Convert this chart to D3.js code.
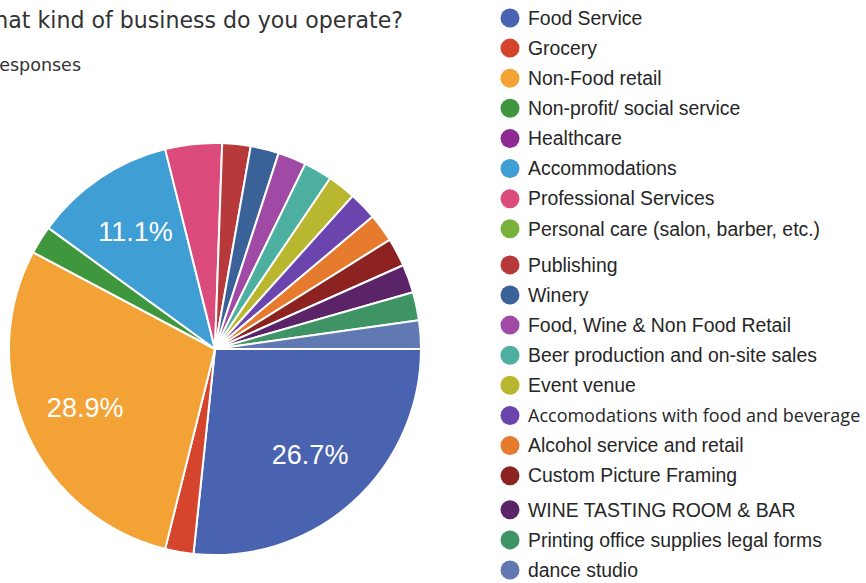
<!DOCTYPE html>
<html>
<head>
<meta charset="utf-8">
<script src="https://cdn.jsdelivr.net/npm/d3@7"></script>
<style>
  html, body { margin: 0; padding: 0; background: #fff; }
  svg { display: block; }
</style>
</head>
<body>
<svg id="chart" width="866" height="583"></svg>
<script>
// Survey question and response count
const titleText = "What kind of business do you operate?";
const subtitleText = "45 responses";

// Answer categories, in legend order
const categories = [
  "Food Service",
  "Grocery",
  "Non-Food retail",
  "Non-profit/ social service",
  "Healthcare",
  "Accommodations",
  "Professional Services",
  "Personal care (salon, barber, etc.)",
  "Publishing",
  "Winery",
  "Food, Wine & Non Food Retail",
  "Beer production and on-site sales",
  "Event venue",
  "Accomodations with food and beverage",
  "Alcohol service and retail",
  "Custom Picture Framing",
  "WINE TASTING ROOM & BAR",
  "Printing office supplies legal forms",
  "dance studio"
];

// Number of responses per category
const counts = [12, 1, 13, 1, 0, 5, 2, 0, 1, 1, 1, 1, 1, 1, 1, 1, 1, 1, 1];

// Slice colours
const colors = [
  "#4a63b1", "#d5442c", "#f3a236", "#3e973d", "#8e2a91", "#3f9ed3",
  "#db4b7c", "#78b23a", "#b8393a", "#3b6298", "#a04aa6", "#4caf9f",
  "#b9b630", "#6b44ad", "#e67b2d", "#8c2320", "#5c2468", "#3f9466",
  "#6179b3"
];

const svg = d3.select("#chart");
const total = d3.sum(counts);

// Title and response count (their left part runs off the edge)
svg.append("text")
  .attr("x", 403).attr("y", 28)
  .attr("text-anchor", "end")
  .attr("font-family", "'DejaVu Sans', 'Open Sans', sans-serif")
  .attr("font-size", 22.1)
  .attr("fill", "#333")
  .text(titleText);

svg.append("text")
  .attr("x", 81).attr("y", 71)
  .attr("text-anchor", "end")
  .attr("font-family", "'DejaVu Sans', 'Open Sans', sans-serif")
  .attr("font-size", 17.5)
  .attr("fill", "#333")
  .text(subtitleText);

// Pie
const cx = 215, cy = 349, radius = 206;
const data = categories.map((c, i) => ({ name: c, value: counts[i], color: colors[i] }));

const pie = d3.pie()
  .value(d => d.value)
  .sort(null)
  .startAngle(Math.PI / 2)
  .endAngle(Math.PI / 2 + 2 * Math.PI);

const arc = d3.arc().innerRadius(0).outerRadius(radius);
const labelArc = d3.arc().innerRadius(radius * 0.69).outerRadius(radius * 0.69);

const g = svg.append("g").attr("transform", `translate(${cx},${cy})`);
const arcs = pie(data).filter(d => d.data.value > 0);

g.selectAll("path.slice")
  .data(arcs)
  .join("path")
  .attr("class", "slice")
  .attr("d", arc)
  .attr("fill", d => d.data.color)
  .attr("stroke", "#fff")
  .attr("stroke-width", 2)
  .attr("stroke-linejoin", "round");

// Percentage labels on the larger slices
g.selectAll("text.pct")
  .data(arcs.filter(d => d.data.value / total >= 0.05))
  .join("text")
  .attr("class", "pct")
  .attr("transform", d => `translate(${labelArc.centroid(d)})`)
  .attr("text-anchor", "middle")
  .attr("dy", "0.36em")
  .attr("font-family", "Arial, 'Liberation Sans', sans-serif")
  .attr("font-size", 27)
  .attr("fill", "#fff")
  .text(d => (d.data.value / total * 100).toFixed(1) + "%");

// Legend: one column, with slightly wider gaps between its three blocks
const blockGap = i => (i >= 8 ? 6 : 0) + (i >= 16 ? 4 : 0);
const legendRow = d3.scaleLinear().domain([0, categories.length - 1]).range([18, 570 - blockGap(categories.length - 1)]);
const legend = svg.append("g")
  .selectAll("g")
  .data(data)
  .join("g")
  .attr("transform", (d, i) => `translate(0,${legendRow(i) + blockGap(i)})`);

legend.append("circle")
  .attr("cx", 510).attr("cy", 0).attr("r", 9.5)
  .attr("fill", d => d.color);

const isAltFont = d => d.name.startsWith("Accomodations");
legend.append("text")
  .attr("x", 528).attr("y", 0)
  .attr("dy", "0.35em")
  .attr("font-family", d => isAltFont(d)
    ? "'Open Sans', Lato, sans-serif"
    : "Arial, 'Liberation Sans', sans-serif")
  .attr("font-size", d => isAltFont(d) ? 18 : 19.4)
  .attr("fill", "#262626")
  .text(d => d.name);
</script>
</body>
</html>
